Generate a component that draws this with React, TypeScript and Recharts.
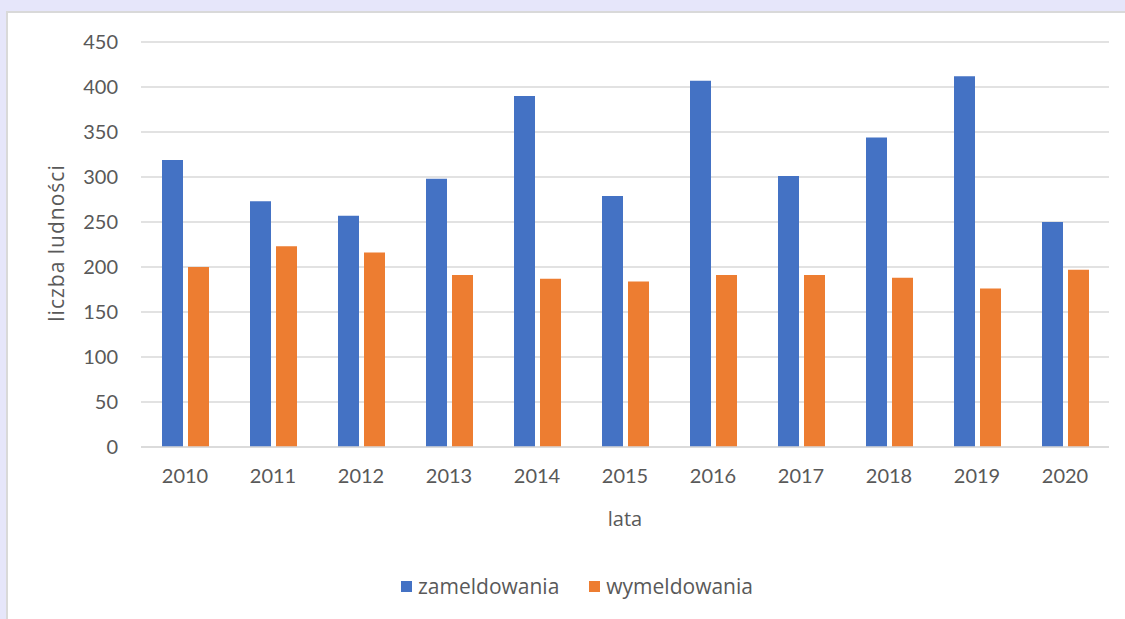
import React from 'react';
import { BarChart, Bar, XAxis, YAxis, CartesianGrid, Legend } from 'recharts';

const years = ['2010', '2011', '2012', '2013', '2014', '2015', '2016', '2017', '2018', '2019', '2020'];
const zameldowania = [319, 273, 257, 298, 390, 279, 407, 301, 344, 412, 250];
const wymeldowania = [200, 223, 216, 191, 187, 184, 191, 191, 188, 176, 197];
const yTicks = [0, 50, 100, 150, 200, 250, 300, 350, 400, 450];

const seriesNames = ['zameldowania', 'wymeldowania'];
const seriesColors = ['#4472C4', '#ED7D31'];

const data = years.map((y, i) => ({
  year: y,
  zameldowania: zameldowania[i],
  wymeldowania: wymeldowania[i],
}));

const FONT = 'Lato, "Open Sans", sans-serif';
const WFONT = '"Open Sans", Lato, sans-serif';
const TEXT = '#595959';

const LegendContent = () => (
  <div style={{ position: 'relative', height: 0 }}>
    <div
      style={{
        position: 'absolute',
        left: 401,
        top: 572,
        display: 'flex',
        alignItems: 'center',
        fontFamily: WFONT,
        fontSize: 21,
        color: TEXT,
        whiteSpace: 'nowrap',
      }}
    >
      {seriesNames.map((n, i) => (
        <div key={n} style={{ display: 'flex', alignItems: 'center', marginRight: i === 0 ? 30 : 0 }}>
          <span style={{ display: 'inline-block', width: 11, height: 11, background: seriesColors[i], marginRight: 6 }} />
          <span>{n}</span>
        </div>
      ))}
    </div>
  </div>
);

const XLabel = (props: any) => {
  const vb = props.viewBox || {};
  return (
    <text x={vb.x + vb.width / 2} y={vb.y + 79} textAnchor="middle" fill={TEXT} fontSize={20} fontFamily={WFONT}>
      lata
    </text>
  );
};

const YLabel = () => (
  <text
    x={56}
    y={243}
    transform="rotate(-90 56 243)"
    textAnchor="middle"
    dominantBaseline="central"
    fill={TEXT}
    fontSize={21}
    letterSpacing={1}
    fontFamily={WFONT}
  >
    liczba ludności
  </text>
);

export default function App() {
  return (
    <div style={{ position: 'absolute', left: 0, top: 0, width: 1125, height: 619, background: '#E6E6FA', overflow: 'hidden' }}>
      <div
        style={{
          position: 'absolute',
          left: 6,
          top: 11,
          width: 1125,
          height: 619,
          background: '#FFFFFF',
          borderLeft: '2px solid #D9D9D9',
          borderTop: '2px solid #D9D9D9',
        }}
      />
      <div style={{ position: 'absolute', left: 0, top: 0 }}>
        <BarChart
          width={1125}
          height={619}
          data={data}
          margin={{ top: 42, right: 16, bottom: 72, left: 41 }}
          barGap={5}
        >
          <CartesianGrid vertical={false} stroke="#D9D9D9" strokeWidth={1.5} />
          <XAxis
            dataKey="year"
            height={100}
            tickLine={false}
            tickSize={0}
            tickMargin={22}
            axisLine={{ stroke: '#D9D9D9', strokeWidth: 1.5 }}
            tick={{ fill: TEXT, fontSize: 20, fontFamily: FONT }}
            label={<XLabel />}
          />
          <YAxis
            width={100}
            domain={[0, 450]}
            ticks={yTicks}
            interval={0}
            axisLine={false}
            tickLine={false}
            tickSize={0}
            tickMargin={23}
            tick={{ fill: TEXT, fontSize: 20, fontFamily: FONT }}
            label={<YLabel />}
          />
          <Legend content={<LegendContent />} wrapperStyle={{ top: 0, left: 0, bottom: 'auto', width: 1125, height: 0 }} />
          <Bar dataKey="zameldowania" name="zameldowania" fill={seriesColors[0]} barSize={21} isAnimationActive={false} />
          <Bar dataKey="wymeldowania" name="wymeldowania" fill={seriesColors[1]} barSize={21} isAnimationActive={false} />
        </BarChart>
      </div>
    </div>
  );
}
